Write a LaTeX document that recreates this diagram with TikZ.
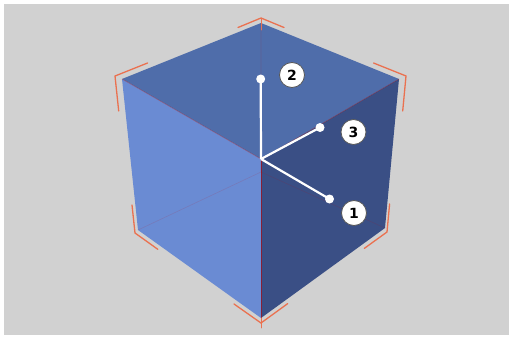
\documentclass[tikz,border=0pt]{standalone}
\usepackage{fontspec}
\setsansfont{DejaVu Sans}
\begin{document}
\begin{tikzpicture}[x=1pt,y=-1pt,
  edgeline/.style={draw=red!70!black, line width=0.6pt, opacity=0.35},
  hiddenline/.style={draw=red!80!black, line width=0.6pt, opacity=0.12},
  bracket/.style={draw=bracketred, line width=1.3pt, line cap=round, line join=miter},
  axisline/.style={draw=white, line width=2.2pt},
  axisdot/.style={circle, fill=white, inner sep=0pt, minimum size=9pt},
  callout/.style={circle, fill=white, draw=black!65, line width=0.8pt, inner sep=0pt,
    minimum size=25pt, font=\sffamily\bfseries\fontsize{14}{14}\selectfont}]
\definecolor{bggray}{HTML}{D1D1D1}
\definecolor{topface}{HTML}{4F6DAA}
\definecolor{leftface}{HTML}{6A8BD3}
\definecolor{rightface}{HTML}{3A4F85}
\definecolor{bracketred}{HTML}{EA7150}

% page and backdrop
\useasboundingbox (0,0) rectangle (511,337);
\fill[white] (0,0) rectangle (511,337);
\fill[bggray] (4,4) rectangle (509,335);

% cube vertices
\coordinate (T)  at (261,23);
\coordinate (LT) at (122,79);
\coordinate (RT) at (399,79);
\coordinate (C)  at (261,159);
\coordinate (LB) at (138,230);
\coordinate (RB) at (385,228);
\coordinate (B)  at (261,318);
\coordinate (H)  at (261,172);

% faces
\fill[topface]   (T) -- (RT) -- (C) -- (LT) -- cycle;
\fill[leftface]  (LT) -- (C) -- (B) -- (LB) -- cycle;
\fill[rightface] (C) -- (RT) -- (RB) -- (B) -- cycle;

% edges
\path[hiddenline] (T) -- (H) (H) -- (LB) (H) -- (RB);
\path[edgeline] (LT) -- (C) -- (RT);
\draw[red!75!black, line width=0.7pt, opacity=0.6] (C) -- (B);

% corner brackets
\coordinate (bT)  at (261,18);
\coordinate (bLT) at (115,76);
\coordinate (bRT) at (406,76);
\coordinate (bLB) at (135,233);
\coordinate (bRB) at (387,232);
\coordinate (bB)  at (261,323);
\draw[bracket] (238,27.5) -- (bT) -- (284,27.5);
\draw[bracket, line width=0.8pt] (bT) -- (261,30);
\draw[bracket] (147.5,63) -- (bLT) -- (118.7,111);
\draw[bracket] (373.6,63) -- (bRT) -- (402.7,111);
\draw[bracket] (132,205) -- (bLB) -- (157.8,249.3);
\draw[bracket] (389.6,204) -- (bRB) -- (364.3,248.4);
\draw[bracket] (234,304) -- (bB) -- (287.7,303.6);
\draw[bracket, line width=0.8pt] (B) -- (261,328);

% axes
\coordinate (O) at (261,159);
\node[axisdot] (d2) at (260.7,79) {};
\node[axisdot] (d3) at (320,127.5) {};
\node[axisdot] (d1) at (329.5,199) {};
\draw[axisline] (O) -- (d2.center);
\draw[axisline] (O) -- (d3.center);
\draw[axisline] (O) -- (d1.center);

% callouts
\node[callout] (n2) at (292,75) {2};
\node[callout] (n3) at (353.5,132) {3};
\node[callout] (n1) at (354,213) {1};
\end{tikzpicture}
\end{document}
